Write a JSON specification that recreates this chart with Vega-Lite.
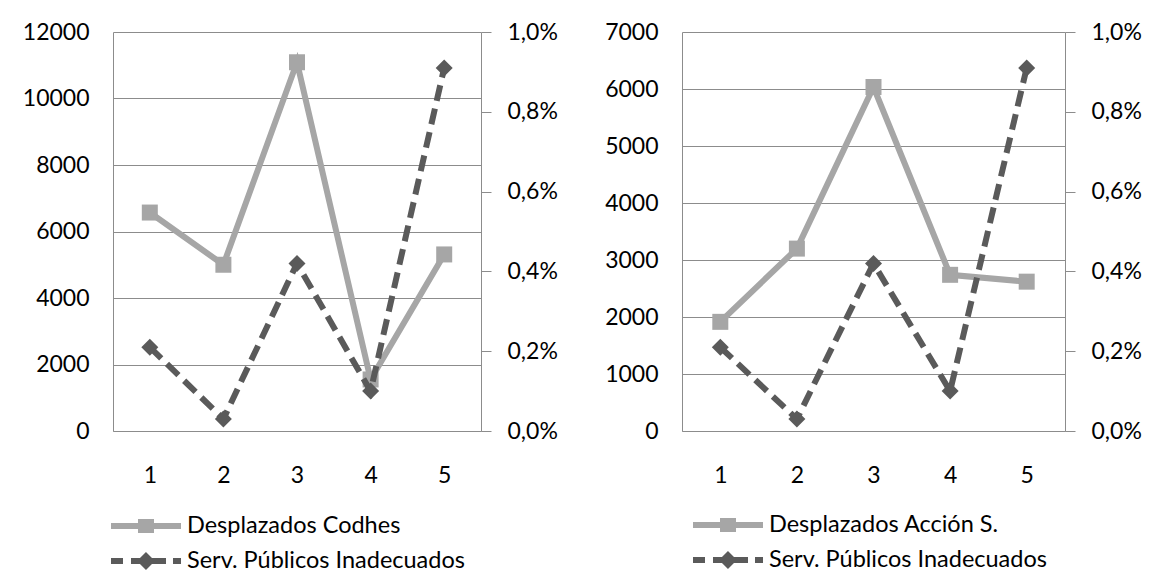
{
  "$schema": "https://vega.github.io/schema/vega-lite/v6.json",
  "padding": {"left": 22, "top": 21, "right": 0, "bottom": 0},
  "spacing": 46,
  "config": {
    "font": "Lato",
    "view": {"stroke": null},
    "axis": {"labelFont": "Lato", "labelFontSize": 23, "labelColor": "#000000", "domainColor": "#8C8C8C", "tickColor": "#8C8C8C", "gridColor": "#8C8C8C", "domainWidth": 1, "gridWidth": 1}
  },
  "datasets": {
    "left": [
      {"x": 1, "serie": "Desplazados Codhes", "v": 6570},
      {"x": 2, "serie": "Desplazados Codhes", "v": 5000},
      {"x": 3, "serie": "Desplazados Codhes", "v": 11090},
      {"x": 4, "serie": "Desplazados Codhes", "v": 1550},
      {"x": 5, "serie": "Desplazados Codhes", "v": 5310},
      {"x": 1, "serie": "Serv. Públicos Inadecuados", "v": 0.0021},
      {"x": 2, "serie": "Serv. Públicos Inadecuados", "v": 0.0003},
      {"x": 3, "serie": "Serv. Públicos Inadecuados", "v": 0.0042},
      {"x": 4, "serie": "Serv. Públicos Inadecuados", "v": 0.001},
      {"x": 5, "serie": "Serv. Públicos Inadecuados", "v": 0.0091}
    ],
    "right": [
      {"x": 1, "serie": "Desplazados Acción S.", "v": 1915},
      {"x": 2, "serie": "Desplazados Acción S.", "v": 3200},
      {"x": 3, "serie": "Desplazados Acción S.", "v": 6035},
      {"x": 4, "serie": "Desplazados Acción S.", "v": 2740},
      {"x": 5, "serie": "Desplazados Acción S.", "v": 2620},
      {"x": 1, "serie": "Serv. Públicos Inadecuados", "v": 0.0021},
      {"x": 2, "serie": "Serv. Públicos Inadecuados", "v": 0.0003},
      {"x": 3, "serie": "Serv. Públicos Inadecuados", "v": 0.0042},
      {"x": 4, "serie": "Serv. Públicos Inadecuados", "v": 0.001},
      {"x": 5, "serie": "Serv. Públicos Inadecuados", "v": 0.0091}
    ]
  },
  "hconcat": [
    {
      "width": 368,
      "height": 399,
      "data": {"name": "left"},
      "encoding": {
        "x": {"field": "x", "type": "ordinal", "axis": {"title": null, "labelAngle": 0, "ticks": false, "tickSize": 0, "labelPadding": 33, "grid": false}},
        "color": {
          "field": "serie", "type": "nominal",
          "scale": {"domain": ["Desplazados Codhes", "Serv. Públicos Inadecuados"], "range": ["#A6A6A6", "#5A5A5A"]},
          "legend": {
            "orient": "none", "legendX": -2, "legendY": 479, "direction": "vertical", "title": null,
            "labelFont": "Lato", "labelFontSize": 23.5, "labelColor": "#000000", "labelOffset": 46, "labelLimit": 0,
            "symbolSize": 900, "rowPadding": 8, "padding": 0,
            "encode": {"symbols": {"update": {
              "shape": {"signal": "datum.value !== 'Serv. Públicos Inadecuados' ? 'M-1,-0.2H3.667V0.2H-1Z M0.8,-0.47H1.867V0.47H0.8Z' : 'M-1,-0.2H-0.2V0.2H-1Z M0.333,-0.2H2.667V0.2H0.333Z M3.133,-0.2H3.667V0.2H3.133Z M1.333,-0.6L1.933,0L1.333,0.6L0.733,0Z'"},
              "fill": {"signal": "datum.value !== 'Serv. Públicos Inadecuados' ? '#A6A6A6' : '#5A5A5A'"},
              "stroke": {"value": "transparent"}, "strokeWidth": {"value": 0}, "opacity": {"value": 1}
            }}}
          }
        }
      },
      "layer": [
        {
          "transform": [{"filter": "datum.serie !== 'Serv. Públicos Inadecuados'"}],
          "encoding": {"y": {"field": "v", "type": "quantitative", "scale": {"domain": [0, 12000], "nice": false}, "axis": {"orient": "left", "title": null, "values": [0, 2000, 4000, 6000, 8000, 10000, 12000], "format": "d", "grid": true, "ticks": false, "tickSize": 0, "labelPadding": 24}}},
          "layer": [
            {"mark": {"type": "line", "strokeWidth": 6}},
            {"mark": {"type": "point", "shape": "square", "filled": true, "size": 256, "opacity": 1}}
          ]
        },
        {
          "transform": [{"filter": "datum.serie === 'Serv. Públicos Inadecuados'"}],
          "encoding": {"y": {"field": "v", "type": "quantitative", "scale": {"domain": [0, 0.01], "nice": false}, "axis": {"orient": "right", "title": null, "values": [0, 0.002, 0.004, 0.006, 0.008, 0.01], "labelExpr": "replace(format(datum.value, '.1%'), '.', ',')", "grid": false, "ticks": true, "tickSize": 10, "labelPadding": 16}}},
          "layer": [
            {"mark": {"type": "line", "strokeWidth": 6, "strokeDash": [16, 8]}},
            {"mark": {"type": "point", "shape": "diamond", "filled": true, "size": 289, "opacity": 1}}
          ]
        }
      ],
      "resolve": {"scale": {"y": "independent"}}
    },
    {
      "width": 383,
      "height": 399,
      "data": {"name": "right"},
      "encoding": {
        "x": {"field": "x", "type": "ordinal", "axis": {"title": null, "labelAngle": 0, "ticks": false, "tickSize": 0, "labelPadding": 33, "grid": false}},
        "color": {
          "field": "serie", "type": "nominal",
          "scale": {"domain": ["Desplazados Acción S.", "Serv. Públicos Inadecuados"], "range": ["#A6A6A6", "#5A5A5A"]},
          "legend": {
            "orient": "none", "legendX": 11, "legendY": 478, "direction": "vertical", "title": null,
            "labelFont": "Lato", "labelFontSize": 23.5, "labelColor": "#000000", "labelOffset": 46, "labelLimit": 0,
            "symbolSize": 900, "rowPadding": 8, "padding": 0,
            "encode": {"symbols": {"update": {
              "shape": {"signal": "datum.value !== 'Serv. Públicos Inadecuados' ? 'M-1,-0.2H3.667V0.2H-1Z M0.8,-0.47H1.867V0.47H0.8Z' : 'M-1,-0.2H-0.2V0.2H-1Z M0.333,-0.2H2.667V0.2H0.333Z M3.133,-0.2H3.667V0.2H3.133Z M1.333,-0.6L1.933,0L1.333,0.6L0.733,0Z'"},
              "fill": {"signal": "datum.value !== 'Serv. Públicos Inadecuados' ? '#A6A6A6' : '#5A5A5A'"},
              "stroke": {"value": "transparent"}, "strokeWidth": {"value": 0}, "opacity": {"value": 1}
            }}}
          }
        }
      },
      "layer": [
        {
          "transform": [{"filter": "datum.serie !== 'Serv. Públicos Inadecuados'"}],
          "encoding": {"y": {"field": "v", "type": "quantitative", "scale": {"domain": [0, 7000], "nice": false}, "axis": {"orient": "left", "title": null, "values": [0, 1000, 2000, 3000, 4000, 5000, 6000, 7000], "format": "d", "grid": true, "ticks": false, "tickSize": 0, "labelPadding": 24}}},
          "layer": [
            {"mark": {"type": "line", "strokeWidth": 6}},
            {"mark": {"type": "point", "shape": "square", "filled": true, "size": 256, "opacity": 1}}
          ]
        },
        {
          "transform": [{"filter": "datum.serie === 'Serv. Públicos Inadecuados'"}],
          "encoding": {"y": {"field": "v", "type": "quantitative", "scale": {"domain": [0, 0.01], "nice": false}, "axis": {"orient": "right", "title": null, "values": [0, 0.002, 0.004, 0.006, 0.008, 0.01], "labelExpr": "replace(format(datum.value, '.1%'), '.', ',')", "grid": false, "ticks": true, "tickSize": 10, "labelPadding": 16}}},
          "layer": [
            {"mark": {"type": "line", "strokeWidth": 6, "strokeDash": [16, 8]}},
            {"mark": {"type": "point", "shape": "diamond", "filled": true, "size": 289, "opacity": 1}}
          ]
        }
      ],
      "resolve": {"scale": {"y": "independent"}}
    }
  ],
  "resolve": {"scale": {"color": "independent"}, "legend": {"color": "independent"}}
}
